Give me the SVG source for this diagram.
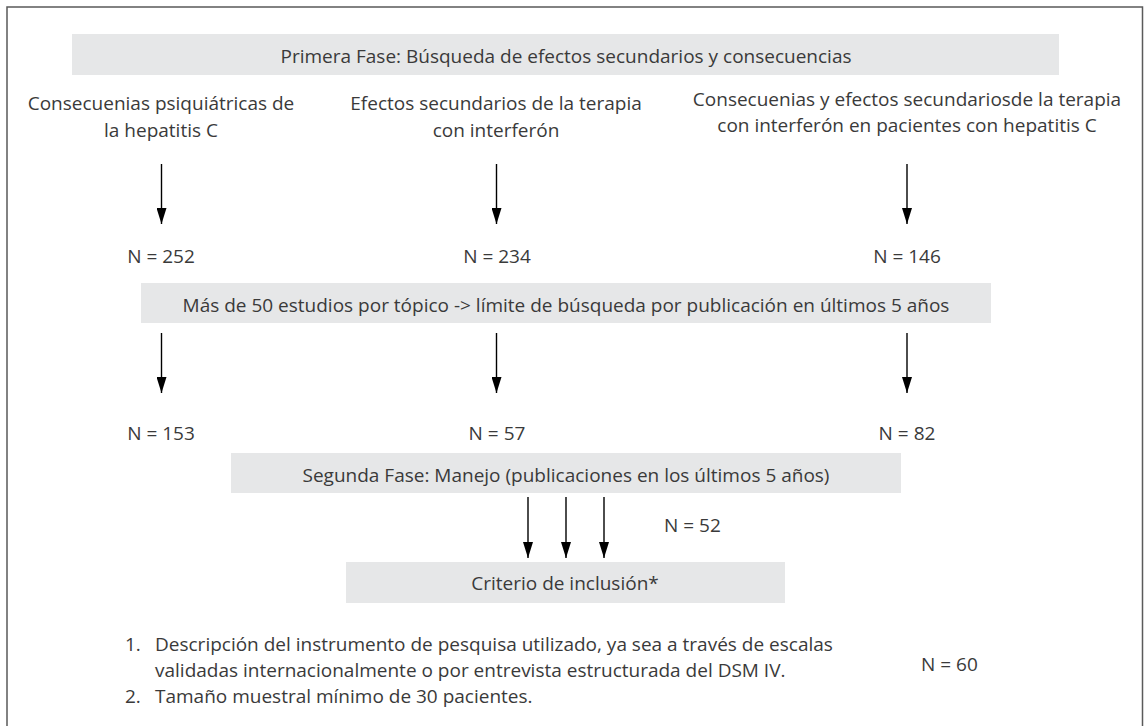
<svg xmlns="http://www.w3.org/2000/svg" width="1144" height="726" viewBox="0 0 1144 726">
<defs>
<style>
text{font-family:"Open Sans","Noto Sans","DejaVu Sans",sans-serif;font-size:19px;fill:#3a3a3a;font-weight:400}
.c{text-anchor:middle}
.box{fill:#e6e7e8}
.frame{fill:none;stroke:#5a5a5a;stroke-width:1.5}
.arr{stroke:#000;stroke-width:1.4;fill:none;marker-end:url(#ah)}
</style>
<marker id="ah" viewBox="0 0 16 10" refX="16" refY="5" markerWidth="16" markerHeight="10" markerUnits="userSpaceOnUse" orient="auto">
<path d="M0,0 L16,5 L0,10 Z" fill="#000"/>
</marker>
</defs>
<rect width="1144" height="726" fill="#fff"/>
<path class="frame" d="M7,726 V7 H1142.5 V726"/>

<g id="fase1">
<rect class="box" x="72" y="34" width="987" height="41"/>
<text class="c" x="566" y="63">Primera Fase: Búsqueda de efectos secundarios y consecuencias</text>
</g>
<g id="topico1">
<text class="c" x="161" y="110">Consecuenias psiquiátricas de</text>
<text class="c" x="161" y="137">la hepatitis C</text>
</g>
<g id="topico2">
<text class="c" x="496" y="110">Efectos secundarios de la terapia</text>
<text class="c" x="496" y="137">con interferón</text>
</g>
<g id="topico3">
<text class="c" x="907" y="106">Consecuenias y efectos secundariosde la terapia</text>
<text class="c" x="907" y="132">con interferón en pacientes con hepatitis C</text>
</g>
<g id="n252"><text class="c" x="161" y="263">N = 252</text></g>
<g id="n234"><text class="c" x="497" y="263">N = 234</text></g>
<g id="n146"><text class="c" x="907" y="263">N = 146</text></g>
<g id="limite">
<rect class="box" x="141" y="283" width="850" height="40"/>
<text class="c" x="566" y="312">Más de 50 estudios por tópico -&gt; límite de búsqueda por publicación en últimos 5 años</text>
</g>
<g id="n153"><text class="c" x="161" y="440">N = 153</text></g>
<g id="n57"><text class="c" x="497" y="440">N = 57</text></g>
<g id="n82"><text class="c" x="907" y="440">N = 82</text></g>
<g id="fase2">
<rect class="box" x="231" y="453" width="670" height="40"/>
<text class="c" x="566" y="482">Segunda Fase: Manejo (publicaciones en los últimos 5 años)</text>
</g>
<g id="n52"><text x="664" y="532">N = 52</text></g>
<g id="criterio">
<rect class="box" x="346" y="562" width="439" height="41"/>
<text class="c" x="565" y="590">Criterio de inclusión*</text>
</g>
<g id="lista">
<text x="125" y="651">1.</text>
<text x="155" y="651">Descripción del instrumento de pesquisa utilizado, ya sea a través de escalas</text>
<text x="155" y="677">validadas internacionalmente o por entrevista estructurada del DSM IV.</text>
<text x="125" y="703">2.</text>
<text x="155" y="703">Tamaño muestral mínimo de 30 pacientes.</text>
</g>
<g id="n60"><text x="921" y="671">N = 60</text></g>

<g id="connectors">
<line class="arr" x1="161.5" y1="164" x2="161.5" y2="224"/>
<line class="arr" x1="496.5" y1="164" x2="496.5" y2="224"/>
<line class="arr" x1="907" y1="164" x2="907" y2="224"/>
<line class="arr" x1="161.5" y1="333" x2="161.5" y2="393"/>
<line class="arr" x1="496.5" y1="333" x2="496.5" y2="393"/>
<line class="arr" x1="907" y1="333" x2="907" y2="393"/>
<line class="arr" x1="528" y1="497" x2="528" y2="558"/>
<line class="arr" x1="566" y1="497" x2="566" y2="558"/>
<line class="arr" x1="604" y1="497" x2="604" y2="558"/>
</g>
</svg>
